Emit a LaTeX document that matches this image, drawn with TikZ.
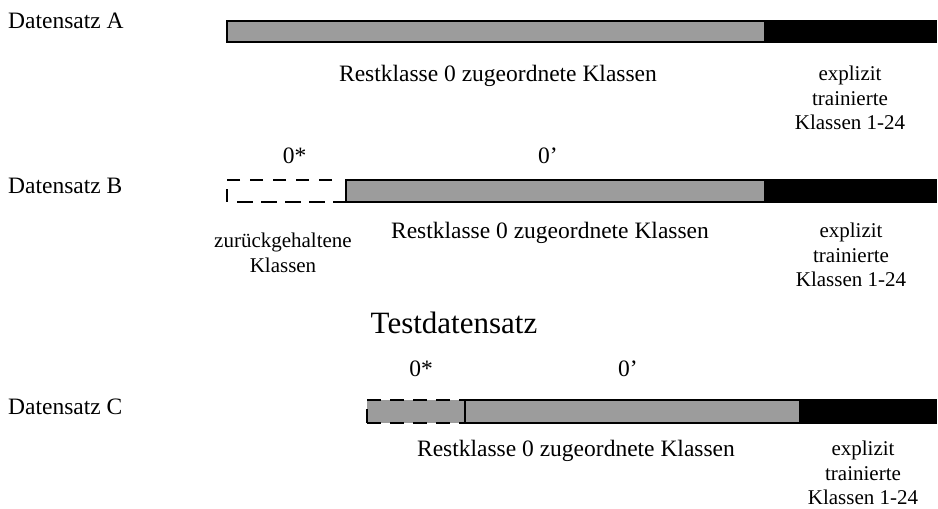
\documentclass[tikz,border=0pt]{standalone}
\usepackage{fontspec}
\setmainfont{Liberation Serif}
\definecolor{barfill}{RGB}{156,156,156}
\tikzset{
  restbar/.style={draw=black, line width=2pt, fill=barfill},
  heldbar/.style={draw=black, line width=2pt, dash pattern=on 14pt off 9pt},
  setlabel/.style={anchor=base west, inner sep=0pt, font=\fontsize{23.5}{28}\selectfont},
  mainlabel/.style={anchor=base, inner sep=0pt, font=\fontsize{23.5}{28}\selectfont},
  smalllabel/.style={anchor=north, inner sep=0pt, align=center, font=\fontsize{21}{24.5}\selectfont},
  titlelabel/.style={anchor=base, inner sep=0pt, font=\fontsize{31}{36}\selectfont}
}
\begin{document}
\begin{tikzpicture}[x=1pt, y=-1pt]
\useasboundingbox (0,0) rectangle (938,509);

% Datensatz A
\node[setlabel] (la) at (8,28) {Datensatz A};
\draw[restbar] (227,21) rectangle (765,42);
\fill[black] (765,20) rectangle (937,43);
\node[mainlabel] (ra) at (498,81) {Restklasse 0 zugeordnete Klassen};
\node[smalllabel] (ea) at (850,66) {explizit\\trainierte\\Klassen 1-24};

% Datensatz B
\node[mainlabel] (sb) at (294.5,163) {0*};
\node[mainlabel] (pb) at (548,163) {0’};
\node[setlabel] (lb) at (8,193) {Datensatz B};
\draw[heldbar, dash pattern=on 13pt off 10pt] (332,180) -- (227,180);
\draw[line width=2pt] (227,189) -- (227,202);
\draw[heldbar, dash pattern=on 16pt off 8pt] (237,202) -- (346,202);
\draw[restbar] (346,180) rectangle (765,202);
\fill[black] (765,179) rectangle (937,203);
\node[smalllabel] (hb) at (283,233) {zurückgehaltene\\Klassen};
\node[mainlabel] (rb) at (550,238) {Restklasse 0 zugeordnete Klassen};
\node[smalllabel] (eb) at (851,223) {explizit\\trainierte\\Klassen 1-24};

% Testdatensatz
\node[titlelabel] (td) at (454,333) {Testdatensatz};

% Datensatz C
\node[mainlabel] (sc) at (421,376) {0*};
\node[mainlabel] (pc) at (628,376) {0’};
\node[setlabel] (lc) at (8,414) {Datensatz C};
\fill[barfill] (367,400) rectangle (465,423);
\draw[heldbar] (367,423) -- (367,400) -- (465,400);
\draw[heldbar] (367,423) -- (465,423);
\draw[restbar] (465,400) rectangle (800,423);
\fill[black] (800,399) rectangle (937,424);
\node[mainlabel] (rc) at (576,456) {Restklasse 0 zugeordnete Klassen};
\node[smalllabel] (ec) at (863,441) {explizit\\trainierte\\Klassen 1-24};
\end{tikzpicture}
\end{document}
